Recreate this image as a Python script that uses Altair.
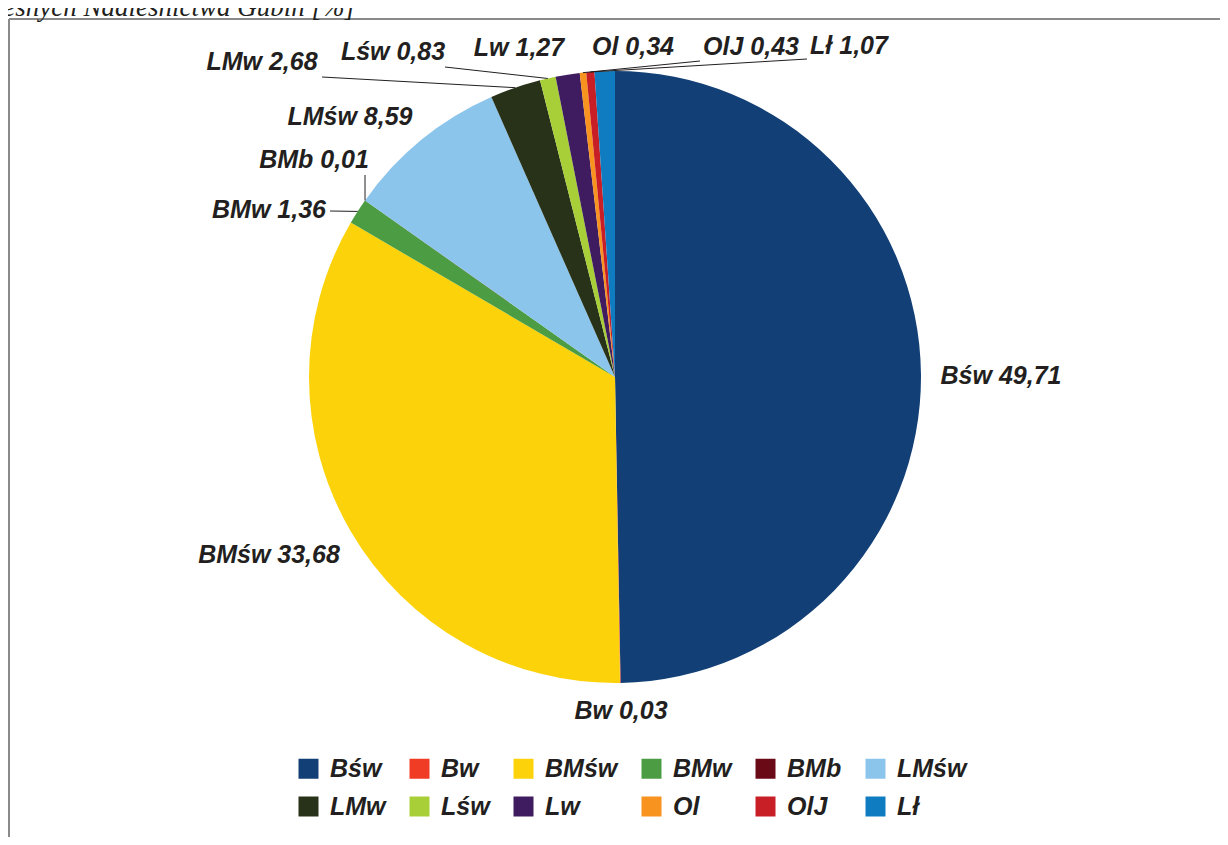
import math
import altair as alt
import pandas as pd

# ---- data -------------------------------------------------------------
categories = ["Bśw", "Bw", "BMśw", "BMw", "BMb", "LMśw",
              "LMw", "Lśw", "Lw", "Ol", "OlJ", "Lł"]
shares = [49.71, 0.03, 33.68, 1.36, 0.01, 8.59,
          2.68, 0.83, 1.27, 0.34, 0.43, 1.07]
title_text = "esnych Nadleśnictwa Gubin [%]"

# ---- styles / layout ----------------------------------------------------
colors = ["#123f75", "#f03c24", "#fcd20a", "#4b9c42", "#6b0a17", "#8cc5ec",
          "#283218", "#a8cf38", "#3f1b60", "#f7931e", "#c81f27", "#0f7cc2"]
W, H = 1212, 829
CX, CY, R = 607, 369, 306
FONT = "Liberation Sans"
TXT = "#231f20"

# label centres (chart pixels), one per category
label_pos = [(993, 368), (613, 703), (261, 547), (261, 202), (306, 152),
             (342, 109), (254, 54), (385, 44), (511, 40), (625, 39),
             (743, 39), (841, 38)]
# leader line start points at the label side (None = no leader)
leader_start = [None, None, None, (322, 203), (357, 167), None,
                (314, 69), (437, 59), None, (692, 53), (799, 51), None]

df = pd.DataFrame({"cat": categories, "value": shares,
                   "idx": list(range(len(categories)))})

labels = pd.DataFrame({
    "text": [f"{c} {v:.2f}".replace(".", ",") for c, v in zip(categories, shares)],
    "x": [p[0] for p in label_pos],
    "y": [p[1] for p in label_pos],
})

# slice mid-points on the rim, computed from the shares
total = sum(shares)
rows = []
cum = 0.0
for c, v, s in zip(categories, shares, leader_start):
    mid = (cum + v / 2) / total * 2 * math.pi
    cum += v
    if s is None:
        continue
    ex = CX + R * math.sin(mid)
    ey = CY - R * math.cos(mid)
    rows.append({"x": s[0], "y": s[1], "x2": ex, "y2": ey})
leaders = pd.DataFrame(rows)

pie = alt.Chart(df).mark_arc(outerRadius=R).encode(
    theta=alt.Theta("value:Q", stack=True),
    order=alt.Order("idx:Q"),
    color=alt.Color(
        "cat:N",
        scale=alt.Scale(domain=categories, range=colors),
        legend=alt.Legend(
            title=None, orient="none", legendX=288, legendY=748,
            direction="horizontal", columns=6, symbolType="square",
            symbolSize=400, symbolStrokeWidth=0, symbolOpacity=1,
            labelFont=FONT, labelFontSize=25, labelFontStyle="italic",
            labelFontWeight="bold", labelColor=TXT, labelOffset=9,
            columnPadding=21, rowPadding=12, padding=0,
        ),
    ),
    x=alt.value(CX), y=alt.value(CY),
)

lines = alt.Chart(leaders).mark_rule(color=TXT, strokeWidth=1).encode(
    x=alt.X("x:Q", scale=None, axis=None),
    y=alt.Y("y:Q", scale=None, axis=None),
    x2="x2:Q", y2="y2:Q",
)

text = alt.Chart(labels).mark_text(
    font=FONT, fontSize=25, fontStyle="italic", fontWeight="bold",
    color=TXT, align="center", baseline="middle",
).encode(
    x=alt.X("x:Q", scale=None, axis=None),
    y=alt.Y("y:Q", scale=None, axis=None),
    text="text:N",
)

title = alt.Chart(pd.DataFrame({"t": [title_text]})).mark_text(
    font="Liberation Serif", fontSize=27, fontStyle="italic",
    color=TXT, align="right", baseline="alphabetic",
).encode(x=alt.value(347), y=alt.value(8), text="t:N")

border = alt.Chart(pd.DataFrame({"a": [0]})).mark_rule(
    color="#8a8a8a", strokeWidth=2
)
border_top = border.encode(x=alt.value(1), x2=alt.value(W), y=alt.value(11))
border_left = border.encode(x=alt.value(1), y=alt.value(11), y2=alt.value(H))

chart = alt.layer(border_top, border_left, pie, lines, text, title).properties(
    width=W, height=H, autosize=alt.AutoSizeParams(type="none"),
    padding=0,
).configure_view(stroke=None).resolve_scale(color="independent")

chart.save("out.html", embed_options={"renderer": "svg", "actions": False})
